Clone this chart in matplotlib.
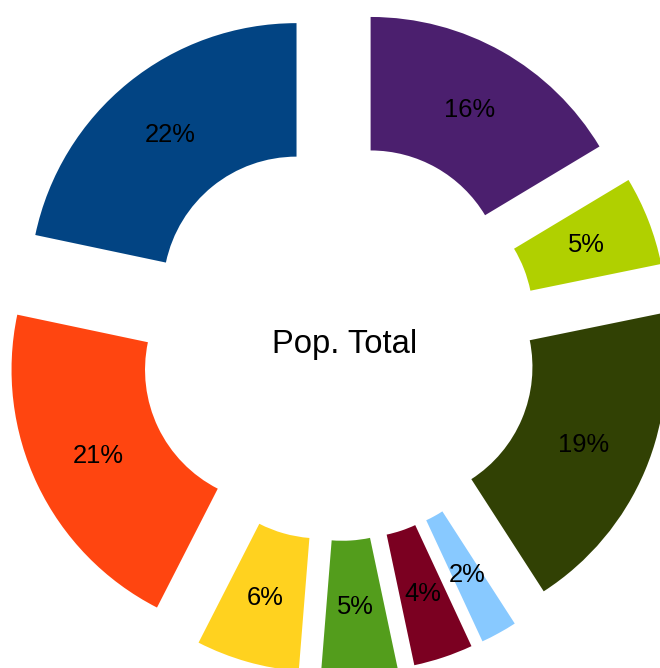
import matplotlib
matplotlib.use("Agg")
import matplotlib.pyplot as plt

# Data (clockwise from 12 o'clock)
labels = ["A", "B", "C", "D", "E", "F", "G", "H", "I"]
values = [16.4, 5.4, 19.1, 2.2, 3.6, 4.6, 6.25, 20.8, 21.7]
colors = ["#4B1F6E", "#B0D000", "#314104", "#88C9FF", "#7B0021",
          "#539D1C", "#FFD21F", "#FF4510", "#024483"]
center_text = "Pop. Total"

W, H = 660, 668
fig = plt.figure(figsize=(W / 100, H / 100), dpi=100)
ax = fig.add_axes([0, 0, 1, 1])

cx, cy = 338.1, H - 341.4
R = 267
ring = 133.5
expl = 66

wedges, texts, autotexts = ax.pie(
    values,
    colors=colors,
    startangle=90,
    counterclock=False,
    radius=R,
    center=(cx, cy),
    explode=[expl] * len(values),
    autopct="%.0f%%",
    pctdistance=0.75,
    wedgeprops=dict(width=ring, linewidth=0, edgecolor="none"),
    textprops=dict(fontsize=18.4, family=["Liberation Sans", "DejaVu Sans"], color="black"),
)

ax.text(344.3, H - 352.7, center_text, ha="center", va="baseline",
        fontsize=23.6, family=["Liberation Sans", "DejaVu Sans"], color="black")

ax.set_xlim(0, W)
ax.set_ylim(0, H)
ax.set_aspect("auto")
ax.set_axis_off()

fig.savefig("out.png", dpi=100, facecolor="white")
